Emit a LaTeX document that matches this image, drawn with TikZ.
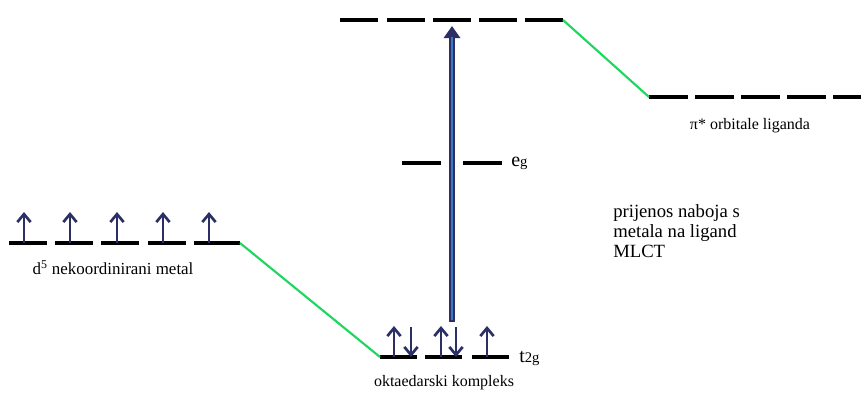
\documentclass[tikz,border=0pt]{standalone}
\usepackage{fontspec}
\setmainfont{Liberation Serif}
\usetikzlibrary{arrows.meta,positioning}
\definecolor{tamnoplava}{HTML}{2B2F66}
\definecolor{plava}{HTML}{3A78C0}
\definecolor{zelena}{HTML}{1ED760}
\tikzset{
  niveau/.style={line width=2.3pt,black},
  veza/.style={line width=1.6pt,zelena},
  spin/.style={-{Straight Barb[length=6pt,width=10pt,line width=2pt]},line width=2pt,tamnoplava},
  oznaka/.style={font=\fontsize{12}{14}\selectfont,inner sep=0pt},
  simetrija/.style={font=\fontsize{15}{17}\selectfont,inner sep=0pt},
}
\begin{document}
\begin{tikzpicture}[x=0.75pt,y=-0.75pt]
  \useasboundingbox (0,0) rectangle (861,394);
  % d5 nekoordinirani metal
  \foreach \i/\x in {1/9,2/55,3/101,4/148,5/194}
    \draw[niveau] (\x,243) coordinate (m\i) -- ++(38,0) coordinate (m\i k);
  \draw[niveau] (m5k) -- ++(8,0) coordinate (mkraj);
  \foreach \x in {24,70,117,163,209}
    \draw[spin] (\x,243) -- (\x,212);
  \node[oznaka,font=\fontsize{12.7}{15}\selectfont] (metal) at (113,268) {d\textsuperscript{5} nekoordinirani metal};
  % t2g
  \foreach \i/\x in {1/380,2/425,3/472}
    \draw[niveau] (\x,357) coordinate (t\i) -- ++(37,0) coordinate (t\i k);
  \foreach \x in {394,441,487}
    \draw[spin] (\x,357) -- (\x,326);
  \foreach \x in {411,456}
    \draw[spin] (\x,327) -- (\x,357);
  \node[simetrija,anchor=base west] (tdg) at (519,362) {t{\fontsize{11}{13}\selectfont 2g}};
  \node[oznaka] (kompleks) at (444,383) {oktaedarski kompleks};
  % eg
  \draw[niveau] (402,163) coordinate (e1) -- (441,163);
  \draw[niveau] (463,163) -- (502,163) coordinate (e2k);
  \node[simetrija,anchor=base west] (eg) at (511,166) {e{\fontsize{11}{13}\selectfont g}};
  % gornji nivoi
  \foreach \i/\x in {1/340,2/387,3/433,4/479,5/525}
    \draw[niveau] (\x,20) coordinate (g\i) -- ++(38,0) coordinate (g\i k);
  \foreach \i/\x in {1/649,2/695,3/741,4/787,5/833}
    \draw[niveau] (\x,97) coordinate (p\i) -- ++(39,0) coordinate (p\i k);
  \node[oznaka] (pi) at (750,126) {π* orbitale liganda};
  % veze
  \draw[veza] (mkraj) -- (t1);
  \draw[veza] (g5k) -- (p1);
  % prijelaz
  \coordinate (dno) at (452,322);
  \coordinate (vrh) at (452,26);
  \draw[line width=4.5pt,tamnoplava,-{Triangle[length=9pt,width=12pt]}] (dno) -- (vrh);
  \draw[line width=1.4pt,plava] (dno) ++(0,-2) -- ([yshift=-8pt]vrh);
  \node[align=left,anchor=north west,inner sep=0pt,font=\fontsize{14}{15}\selectfont] (mlct) at (613,204)
    {prijenos naboja s\\metala na ligand\\MLCT};
\end{tikzpicture}
\end{document}
